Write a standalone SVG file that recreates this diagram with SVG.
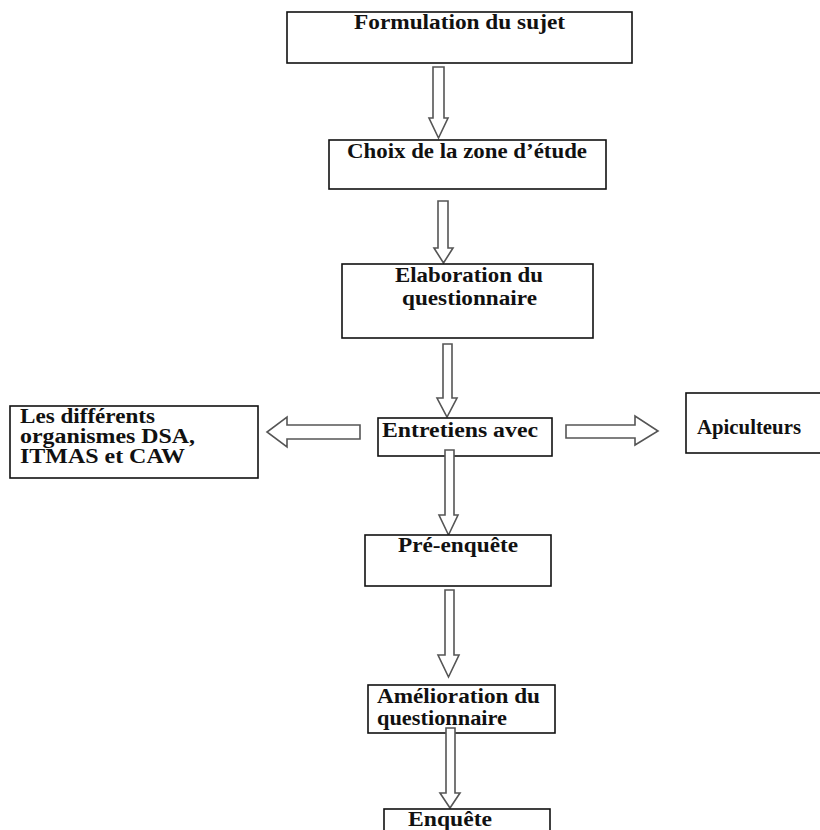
<svg xmlns="http://www.w3.org/2000/svg" width="820" height="830" viewBox="0 0 820 830">
<style>
.box{fill:#fff;stroke:#111;stroke-width:1.6}
.arr{fill:#fff;stroke:#555;stroke-width:1.6;stroke-linejoin:miter}
text{font-family:"Liberation Serif","Times New Roman",serif;font-weight:bold;font-size:20px;fill:#111}
</style>
<rect width="820" height="830" fill="#fff"/>
<g id="connectors">
<polygon class="arr" points="433,67 444,67 444,118 448,118 438.5,138 429,118 433,118"/>
<polygon class="arr" points="438,201 448,201 448,248 453,248 443.5,263 434,248 438,248"/>
<polygon class="arr" points="443,344 452,344 452,398 457,398 447,417 437,398 443,398"/>
<polygon class="arr" points="360,425 360,439 287,439 287,447 267,432 287,417 287,425"/>
<polygon class="arr" points="566,425 635,425 635,416 658,431 635,445 635,438 566,438"/>
</g>
<g id="n1"><rect class="box" x="287" y="12" width="345" height="51"/><text x="354" y="29" textLength="211" lengthAdjust="spacingAndGlyphs">Formulation du sujet</text></g>
<g id="n2"><rect class="box" x="329" y="140" width="277" height="49"/><text x="347" y="158" textLength="240" lengthAdjust="spacingAndGlyphs">Choix de la zone d’étude</text></g>
<g id="n3"><rect class="box" x="342" y="264" width="251" height="74"/><text x="395" y="282" textLength="148" lengthAdjust="spacingAndGlyphs">Elaboration du</text><text x="402" y="305" textLength="135" lengthAdjust="spacingAndGlyphs">questionnaire</text></g>
<g id="n4"><rect class="box" x="378" y="418" width="174" height="38"/><text x="382" y="437" textLength="156" lengthAdjust="spacingAndGlyphs">Entretiens avec</text></g>
<g id="n5"><rect class="box" x="10" y="406" width="248" height="72"/><text x="20" y="423" textLength="135" lengthAdjust="spacingAndGlyphs">Les différents</text><text x="20" y="443" textLength="175" lengthAdjust="spacingAndGlyphs">organismes DSA,</text><text x="20" y="463" textLength="165" lengthAdjust="spacingAndGlyphs">ITMAS et CAW</text></g>
<g id="n6"><rect class="box" x="686" y="393" width="140" height="60"/><text x="697" y="434" textLength="104" lengthAdjust="spacingAndGlyphs">Apiculteurs</text></g>
<g id="connectors2">
<polygon class="arr" points="445,450 454,450 454,515 458,515 448.5,535 439,515 445,515"/>
</g>
<g id="n7"><rect class="box" x="365" y="535" width="186" height="51"/><text x="398" y="552" textLength="120" lengthAdjust="spacingAndGlyphs">Pré-enquête</text></g>
<g id="connectors3">
<polygon class="arr" points="445,590 454,590 454,655 459,655 448.5,677 438,655 445,655"/>
</g>
<g id="n8"><rect class="box" x="368" y="685" width="187" height="48"/><text x="377" y="703" textLength="163" lengthAdjust="spacingAndGlyphs">Amélioration du</text><text x="377" y="725" textLength="130" lengthAdjust="spacingAndGlyphs">questionnaire</text></g>
<g id="connectors4">
<polygon class="arr" points="446,728 455,728 455,793 460,793 450,808 440,793 446,793"/>
</g>
<g id="n9"><rect class="box" x="384" y="809" width="166" height="40"/><text x="408" y="826" textLength="84" lengthAdjust="spacingAndGlyphs">Enquête</text></g>
</svg>
